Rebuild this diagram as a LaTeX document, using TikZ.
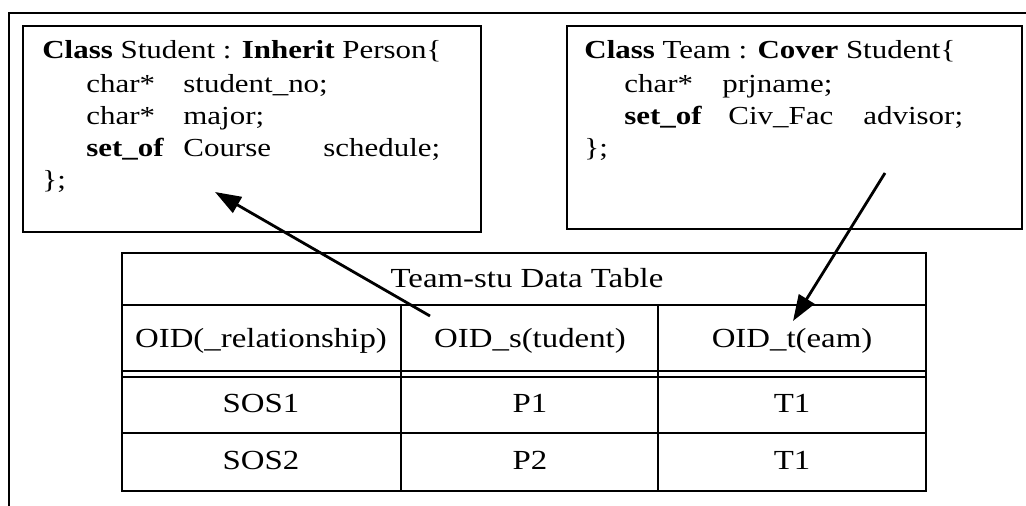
\documentclass[tikz,border=0pt]{standalone}
\usepackage{fontspec}
\setmainfont{Liberation Serif}[FakeStretch=1.19]
\usetikzlibrary{arrows.meta}
\tikzset{
  code/.style={inner sep=0pt, anchor=base west, font=\fontsize{13}{16}\selectfont},
  cell/.style={inner sep=0pt, anchor=base, font=\fontsize{13.8}{16}\selectfont},
  frameline/.style={line width=1pt},
  boxline/.style={line width=1.2pt},
  refarrow/.style={line width=1.4pt, -{Triangle[length=13pt,width=9pt]}}
}
\begin{document}
\begin{tikzpicture}[x=0.5pt,y=-0.5pt]
\useasboundingbox (0,0) rectangle (1026,506);
% outer frame (top and left)
\draw[frameline] (1026,13) -- (9,13) -- (9,506);
% class boxes
\draw[boxline] (23,26) rectangle (481,232);
\draw[boxline] (567,26) rectangle (1022,229);
% Student class text
\node[code] (sa1) at (42,59) {\textbf{Class} Student : \textbf{Inherit} Person\{};
\node[code] (sb1) at (86,93) {char*};
\node[code] (sb2) at (183,93) {student\_no;};
\node[code] (sc1) at (86,125) {char*};
\node[code] (sc2) at (183,125) {major;};
\node[code] (sd1) at (86,157) {\textbf{set\_of}};
\node[code] (sd2) at (183,157) {Course};
\node[code] (sd3) at (323,157) {schedule;};
\node[code] (se1) at (42,189) {\};};
% Team class text
\node[code] (ta1) at (584,59) {\textbf{Class} Team : \textbf{Cover} Student\{};
\node[code] (tb1) at (624,93) {char*};
\node[code] (tb2) at (722,93) {prjname;};
\node[code] (tc1) at (624,125) {\textbf{set\_of}};
\node[code] (tc2) at (728,125) {Civ\_Fac};
\node[code] (tc3) at (863,125) {advisor;};
\node[code] (td1) at (584,157) {\};};
% table
\draw[boxline] (122,253) rectangle (926,305);
\draw[boxline] (122,305) rectangle (926,491);
\draw[boxline] (122,371) -- (926,371);
\draw[boxline] (122,377) -- (926,377);
\draw[boxline] (122,433) -- (926,433);
\draw[boxline] (401,305) -- (401,491);
\draw[boxline] (658,305) -- (658,491);
\node[cell] (title) at (527,288) {Team-stu Data Table};
\node[cell] (h1) at (261,348) {OID(\_relationship)};
\node[cell] (h2) at (530,348) {OID\_s(tudent)};
\node[cell] (h3) at (792,348) {OID\_t(eam)};
\node[cell] (r11) at (261,413) {SOS1};
\node[cell] (r12) at (530,413) {P1};
\node[cell] (r13) at (792,413) {T1};
\node[cell] (r21) at (261,470) {SOS2};
\node[cell] (r22) at (530,470) {P2};
\node[cell] (r23) at (792,470) {T1};
% arrows
\coordinate (stuTail) at (430,316);
\coordinate (stuHead) at (215,192);
\coordinate (teamTail) at (885,173);
\coordinate (teamHead) at (793,321);
\draw[refarrow] (stuTail) -- (stuHead);
\draw[refarrow] (teamTail) -- (teamHead);
\end{tikzpicture}
\end{document}
